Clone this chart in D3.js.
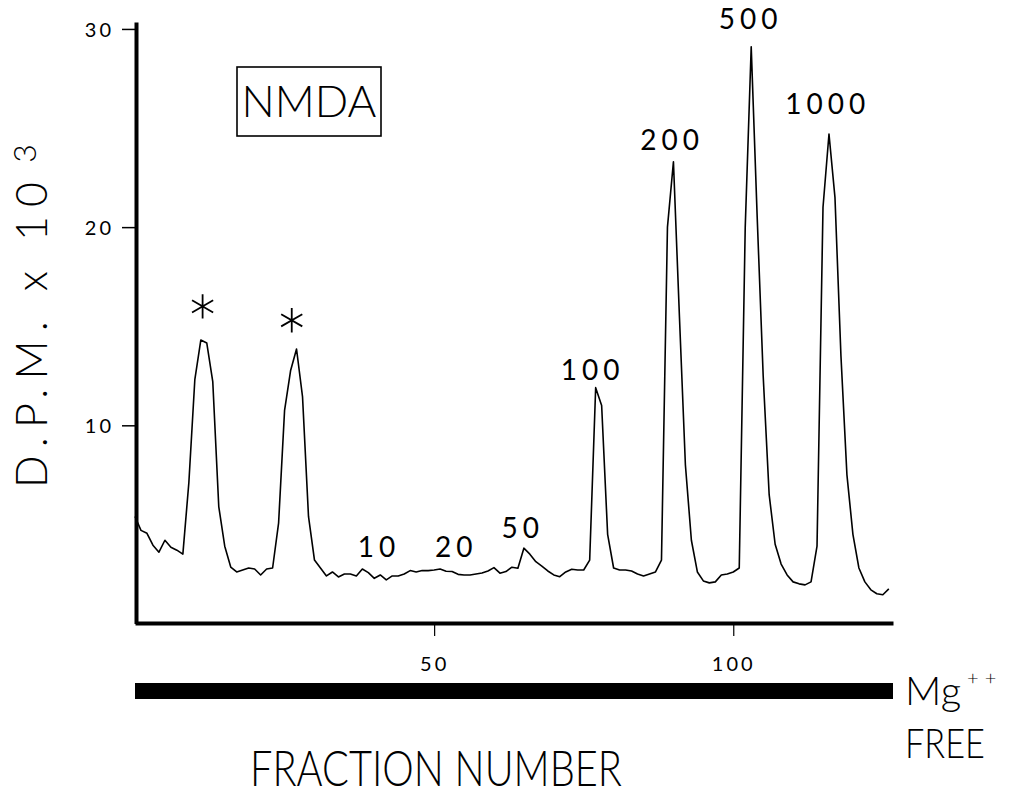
<!DOCTYPE html>
<html lang="en">
<head>
<meta charset="UTF-8">
<title>NMDA - D.P.M. by fraction number</title>
<script src="https://d3js.org/d3.v7.min.js"></script>
<style>
  body { margin: 0; background: #fff; }
  svg { display: block; }
  text { font-family: Lato, "DejaVu Sans", sans-serif; font-weight: 300; fill: #000; }
</style>
</head>
<body>
<svg></svg>
<script>
const width = 1013, height = 797;

// D.P.M. x 10^3 per fraction (fractions 0..126)
const dpm = [
  5.4, 4.7, 4.55, 3.95, 3.6, 4.2, 3.85, 3.7, 3.5, 7.1,
  12.3, 14.3, 14.15, 12.2, 5.9, 3.9, 2.85, 2.6, 2.7, 2.8,
  2.75, 2.45, 2.75, 2.8, 5.06, 10.75, 12.75, 13.85, 11.45, 5.4,
  3.2, 2.8, 2.4, 2.6, 2.35, 2.5, 2.5, 2.4, 2.75, 2.57,
  2.28, 2.45, 2.2, 2.4, 2.4, 2.5, 2.67, 2.6, 2.67, 2.67,
  2.7, 2.75, 2.64, 2.62, 2.48, 2.45, 2.45, 2.5, 2.55, 2.65,
  2.82, 2.54, 2.62, 2.84, 2.79, 3.8, 3.5, 3.12, 2.9, 2.65,
  2.45, 2.36, 2.6, 2.74, 2.7, 2.7, 3.2, 11.9, 11.0, 4.5,
  2.8, 2.7, 2.7, 2.65, 2.5, 2.4, 2.5, 2.6, 3.2, 20.0,
  23.3, 15.5, 8.0, 4.2, 2.6, 2.15, 2.05, 2.1, 2.45, 2.5,
  2.6, 2.8, 20.0, 29.1, 20.5, 12.5, 6.5, 4.0, 3.0, 2.45,
  2.1, 2.0, 1.95, 2.1, 3.9, 21.0, 24.7, 21.5, 13.5, 7.5,
  4.5, 2.8, 2.1, 1.7, 1.5, 1.45, 1.75
];
const fractions = dpm.map((d, i) => i);

const yTicks = [10, 20, 30];
const xTicks = [50, 100];

// concentration labels over the peaks (fraction, D.P.M. level of label baseline)
const peakNames = ["10", "20", "50", "100", "200", "500", "1000"];
const peakFractions = [40.8, 53.7, 64.8, 76.5, 89.8, 102.9, 115.8];
const peakLevels = [3.36, 3.36, 4.32, 12.3, 23.9, 30.0, 25.7];

// asterisks over the two unlabelled peaks
const starFractions = [11.3, 26.2];
const starLevels = [16.0, 15.3];

const svg = d3.select("svg")
  .attr("width", width)
  .attr("height", height);

const x = d3.scaleLinear().domain([0, 126.7]).range([135, 893]);
const y = d3.scaleLinear().domain([0, 30.35]).range([623.5, 22]);

// y axis
const yAxis = svg.append("g")
  .attr("transform", "translate(136,0)")
  .call(d3.axisLeft(y).tickValues(yTicks).tickSize(14).tickSizeOuter(0).tickPadding(8));
yAxis.select(".domain").attr("stroke-width", 4);
yAxis.selectAll(".tick line").attr("stroke-width", 1.5);
yAxis.selectAll(".tick text")
  .style("font-size", "20px")
  .style("font-weight", 400)
  .style("letter-spacing", "3px")
  .style("font-family", "Lato")
  .attr("dy", "0.36em");

// x axis
const xAxis = svg.append("g")
  .attr("transform", "translate(0,623)")
  .call(d3.axisBottom(x).tickValues(xTicks).tickSize(13).tickSizeOuter(0).tickPadding(21));
xAxis.select(".domain").attr("stroke-width", 4);
xAxis.selectAll(".tick line").attr("stroke-width", 1.2);
xAxis.selectAll(".tick text")
  .style("font-size", "20px")
  .style("font-weight", 400)
  .style("letter-spacing", "3px")
  .style("font-family", "Lato");

// trace
const line = d3.line()
  .x((d, i) => x(fractions[i]))
  .y(d => y(d));

svg.append("path")
  .datum(dpm)
  .attr("d", line)
  .attr("fill", "none")
  .attr("stroke", "#000")
  .attr("stroke-width", 1.6)
  .attr("stroke-linejoin", "round");

// peak labels
svg.selectAll(".peak")
  .data(peakNames)
  .join("text")
  .attr("class", "peak")
  .attr("x", (d, i) => x(peakFractions[i]))
  .attr("y", (d, i) => y(peakLevels[i]))
  .attr("text-anchor", "middle")
  .style("font-size", "28px")
  .style("font-weight", 400)
  .style("letter-spacing", "5px")
  .text(d => d);

svg.selectAll(".star")
  .data(starFractions)
  .join("path")
  .attr("class", "star")
  .attr("transform", (d, i) => `translate(${x(d)},${y(starLevels[i])})`)
  .attr("d", d3.symbol(d3.symbolAsterisk, 420))
  .attr("fill", "none")
  .attr("stroke", "#000")
  .attr("stroke-width", 1.8);

// NMDA box
svg.append("rect")
  .attr("x", 237).attr("y", 67)
  .attr("width", 144).attr("height", 69)
  .attr("fill", "none")
  .attr("stroke", "#000")
  .attr("stroke-width", 1.6);
svg.append("text")
  .attr("x", 309).attr("y", 117)
  .attr("text-anchor", "middle")
  .style("font-size", "44px")
  .text("NMDA");

// Mg++ free bar
svg.append("rect")
  .attr("x", x(0)).attr("y", 683)
  .attr("width", x(126.7) - x(0)).attr("height", 16)
  .attr("fill", "#000");

const mg = svg.append("text")
  .attr("x", 905).attr("y", 705)
  .style("font-size", "40px");
mg.append("tspan").text("Mg");
mg.append("tspan")
  .attr("dy", -20)
  .attr("dx", 6)
  .style("font-size", "20px")
  .style("letter-spacing", "6px")
  .text("++");

svg.append("text")
  .attr("x", 905).attr("y", 758)
  .attr("textLength", 80)
  .attr("lengthAdjust", "spacingAndGlyphs")
  .style("font-size", "42px")
  .text("FREE");

// axis titles
svg.append("text")
  .attr("x", 250).attr("y", 786)
  .attr("textLength", 372)
  .attr("lengthAdjust", "spacingAndGlyphs")
  .style("font-size", "50px")
  .text("FRACTION NUMBER");

const yTitle = svg.append("text")
  .attr("transform", "translate(47,488) rotate(-90)")
  .style("font-size", "43px");
yTitle.append("tspan")
  .attr("textLength", 306)
  .attr("lengthAdjust", "spacing")
  .text("D.P.M. x 10");
yTitle.append("tspan")
  .attr("dx", 10)
  .attr("dy", -11)
  .style("font-size", "32px")
  .text("3");
</script>
</body>
</html>
